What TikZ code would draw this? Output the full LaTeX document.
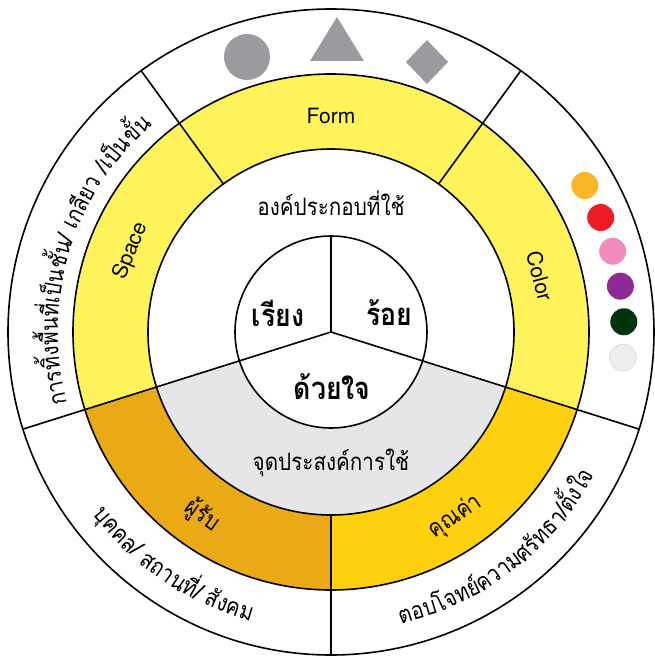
\documentclass[tikz,border=0pt]{standalone}
\usepackage{fontspec}
\setmainfont{TeX Gyre Heros}
\newfontfamily\thai[Script=Thai,FakeStretch=0.86]{Loma}
\usetikzlibrary{decorations.text}
\definecolor{paleyellow}{HTML}{FFF35C}
\definecolor{darkgold}{HTML}{E9AA16}
\definecolor{gold}{HTML}{FFD00D}
\definecolor{lightgrey}{HTML}{E6E6E9}
\definecolor{shapegrey}{HTML}{9B9B9F}
\definecolor{dotorange}{HTML}{F9B625}
\definecolor{dotred}{HTML}{EE1C25}
\definecolor{dotpink}{HTML}{F28CBF}
\definecolor{dotpurple}{HTML}{8E2A96}
\definecolor{dotgreen}{HTML}{00330F}
\definecolor{dotwhite}{HTML}{EEEEF0}

\begin{document}
\begin{tikzpicture}[x=1pt,y=1pt,line width=1.6pt,
  lbl/.style={font=\fontsize{21}{21}\selectfont},
  thl/.style={font=\thai\fontsize{24}{24}\selectfont},
  core/.style={font=\thai\bfseries\fontsize{31}{31}\selectfont},
  arctext/.style={decorate,decoration={text along path,text align=center,
    text={|\thai\fontsize{24}{24}\selectfont|#1}}}]
\useasboundingbox (-331,-326) rectangle (324,332);
% rings
\fill[paleyellow] (0,0) circle (258);
\fill[darkgold] (0,0) -- (197.5:258) arc[start angle=197.5,end angle=270,radius=258] -- cycle;
\fill[gold] (0,0) -- (270:258) arc[start angle=270,end angle=342.5,radius=258] -- cycle;
\fill[white] (0,0) circle (183);
\fill[lightgrey] (0,0) -- (197.5:183) arc[start angle=197.5,end angle=342.5,radius=183] -- cycle;
\fill[white] (0,0) circle (96);
\foreach \r in {96,183,258,323}
\draw (0,0) circle (\r);
\draw (0,0) -- (90:96);
\draw (197.5:323) -- (0,0) -- (342.5:323);
\foreach \a in {54,126,270}
\draw (\a:183) -- (\a:323);
% shapes
\fill[shapegrey] (-84,275) circle (23);
\fill[shapegrey] (-21,271) -- (33,271) -- (6,315) -- cycle;
\fill[shapegrey] (96,292) -- (117,270) -- (96,248) -- (75,270) -- cycle;
% colour dots
\foreach \c [count=\i] in {dotorange,dotred,dotpink,dotpurple,dotgreen}
\fill[\c] ({37-7*\i}:293) circle (13.5);
\filldraw[fill=dotwhite,draw=black!15,line width=0.6pt] (-5:293) circle (13.5);
% labels
\node[lbl] (form) at (90:216) {Form};
\node[lbl,rotate=68] (space) at (158:216) {Space};
\node[lbl,rotate=-75] (color) at (15:216) {Color};
\node[thl,rotate=-35] (receiver) at (235:224) {ผู้รับ};
\node[thl,rotate=34] (value) at (304:223) {คุณค่า};
\node[thl] (parts) at (0,129) {องค์ประกอบที่ใช้};
\node[thl] (purpose) at (0,-131) {จุดประสงค์การใช้};
\node[core] (arrange) at (-53,19) {เรียง};
\node[core] (thread) at (58,19) {ร้อย};
\node[core] (heart) at (1,-55) {ด้วยใจ};
% outer ring texts
\path[arctext={{การ}{ทิ้ง}{พื้น}{ที่}{เป็น}{ชั้น}/ {เกลียว} /{เป็น}{ขั้น}}]
  (208:273) arc[start angle=208,end angle=118,radius=273];
\path[arctext={{บุค}{คล}/ {สถาน}{ที่}/ {สัง}{คม}}]
  (191:300) arc[start angle=191,end angle=281,radius=300];
\path[arctext={{ตอบ}{โจทย์}{ความ}{ศรัทธา}/{ตั้ง}{ใจ}}]
  (262:300) arc[start angle=262,end angle=353,radius=300];
\end{tikzpicture}
\end{document}
